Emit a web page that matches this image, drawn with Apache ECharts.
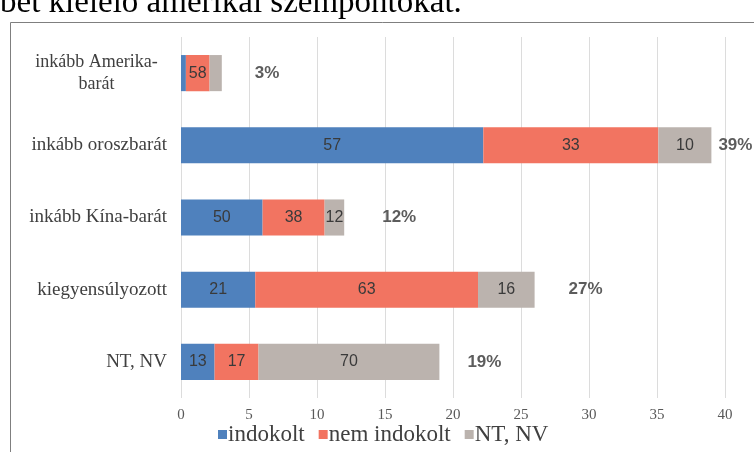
<!DOCTYPE html>
<html>
<head>
<meta charset="utf-8">
<script src="https://cdn.jsdelivr.net/npm/echarts@6/dist/echarts.min.js"></script>
<style>html,body{margin:0;padding:0;background:#fff}#c{width:754px;height:452px}</style>
</head>
<body>
<div id="c"></div>
<script>
const categories = ['inkább Amerika-\nbarát', 'inkább oroszbarát', 'inkább Kína-barát', 'kiegyensúlyozott', 'NT, NV'];
const totals = [3, 39, 12, 26, 19];
const totalLabels = ['3%', '39%', '12%', '27%', '19%'];
const indokolt = [12, 57, 50, 21, 13];
const nemIndokolt = [58, 33, 38, 63, 17];
const ntNv = [30, 10, 12, 16, 70];
const seriesNames = ['indokolt', 'nem indokolt', 'NT, NV'];
const xTicks = [0, 5, 10, 15, 20, 25, 30, 35, 40];

const chart = echarts.init(document.getElementById('c'));
const colors = ['#4f81bd', '#f27461', '#bbb3ae'];
const shares = [indokolt, nemIndokolt, ntNv];
const serif = "'Liberation Serif', serif";
const sans = "'Liberation Sans', sans-serif";

function segSeries(k) {
  return {
    name: seriesNames[k],
    type: 'bar',
    stack: 'total',
    barWidth: '50%',
    itemStyle: { color: colors[k] },
    data: totals.map((t, i) => t * shares[k][i] / 100),
    label: {
      show: true,
      position: 'inside',
      fontFamily: sans,
      fontSize: 16,
      color: '#3a3a3a',
      formatter: p => (p.value >= 1 ? String(shares[k][p.dataIndex]) : '')
    }
  };
}

const totalGaps = [33, 7, 38, 34, 28];

chart.setOption({
  animation: false,
  backgroundColor: '#fff',
  textStyle: { fontFamily: serif },
  graphic: [
    { type: 'rect', shape: { x: 10.5, y: 22.5, width: 1000, height: 1000 }, style: { fill: 'none', stroke: '#7f7f7f', lineWidth: 1 }, z: -1 },
    { type: 'text', x: 0, y: 3, style: { text: 'bet kielelő amerikai szempontokat.', fontFamily: serif, fontSize: 33, fill: '#000', verticalAlign: 'middle' } }
  ],
  grid: { left: 181, right: 29, top: 37, bottom: 54, containLabel: false },
  legend: {
    data: seriesNames,
    top: 418,
    left: 213,
    itemWidth: 9,
    itemHeight: 9,
    itemGap: 14,
    icon: 'rect',
    textStyle: { fontFamily: serif, fontSize: 23, color: '#404040', padding: [0, 0, 0, -4] }
  },
  xAxis: {
    type: 'value',
    min: 0,
    max: 40,
    interval: 5,
    axisLine: { show: false },
    axisTick: { show: false },
    splitLine: { lineStyle: { color: '#dcdcdc' } },
    axisLabel: { fontFamily: serif, fontSize: 15, color: '#595959', margin: 10, formatter: v => (xTicks.includes(v) ? String(v) : '') }
  },
  yAxis: {
    type: 'category',
    inverse: true,
    data: categories,
    axisLine: { show: false },
    axisTick: { show: false },
    axisLabel: {
      margin: 14,
      fontFamily: serif,
      fontSize: 19,
      color: '#404040',
      formatter: v => v.includes('\n') ? v.split('\n').map(s => '{c|' + s + '}').join('\n') : v,
      rich: { c: { width: 141, align: 'center', fontFamily: serif, fontSize: 18, color: '#404040', lineHeight: 22 } }
    }
  },
  series: [
    segSeries(0), segSeries(1), segSeries(2),
    {
      type: 'scatter',
      symbolSize: 0,
      silent: true,
      data: totals.map((t, i) => ({ value: [t, i], label: { distance: totalGaps[i] } })),
      label: {
        show: true,
        position: 'right',
        fontFamily: sans,
        fontWeight: 'bold',
        fontSize: 17,
        color: '#333',
        formatter: p => totalLabels[p.dataIndex]
      }
    }
  ]
});
</script>
</body>
</html>
